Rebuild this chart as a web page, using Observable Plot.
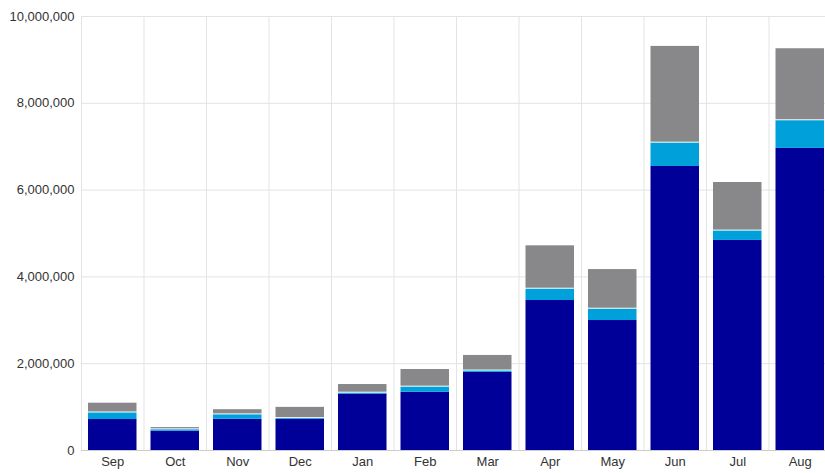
<!DOCTYPE html>
<html><head><meta charset="utf-8">
<script src="https://cdn.jsdelivr.net/npm/d3@7"></script>
<script src="https://cdn.jsdelivr.net/npm/@observablehq/plot@0.6"></script>
<style>html,body{margin:0;padding:0;background:#fff;overflow:hidden}</style>
</head><body><div id="chart"></div>
<script>
const months = ["Sep","Oct","Nov","Dec","Jan","Feb","Mar","Apr","May","Jun","Jul","Aug"];
const seriesNames = ["Series 1","Series 2","Series 3"];
const seriesColors = ["#000099","#00a1da","#88888a"];
const series1 = [714000, 445000, 720000, 714000, 1300000, 1343000, 1800000, 3456000, 2995000, 6544000, 4840000, 6960000];
const series2 = [150000, 30000, 100000, 20000, 20000, 116000, 30000, 260000, 260000, 537000, 215000, 637000];
const series3 = [226000, 53000, 120000, 260000, 200000, 407000, 360000, 1000000, 914000, 2230000, 1120000, 1660000];
const yTicks = [0, 2000000, 4000000, 6000000, 8000000, 10000000];

const rows = [];
[series1, series2, series3].forEach((vals, s) => {
  vals.forEach((v, i) => rows.push({month: months[i], series: seriesNames[s], value: v}));
});

const stackOpts = {x: "month", y: "value", z: "series", fill: "series", order: seriesNames};
const layer = (name, extra = {}) =>
  Plot.barY(rows, {...Plot.filter(d => d.series === name, Plot.stackY(stackOpts)), insetLeft: 7, insetRight: 7, ...extra});

const chart = Plot.plot({
  width: 825, height: 473,
  marginLeft: 81, marginRight: -6, marginTop: 16, marginBottom: 23,
  style: {fontFamily: "'Liberation Sans', Arial, sans-serif", fontSize: "13px", color: "#333", background: "#fff", overflow: "visible"},
  x: {domain: months, padding: 0, round: false},
  y: {domain: [0, 10000000]},
  color: {domain: seriesNames, range: seriesColors},
  marks: [
    Plot.ruleY(yTicks, {stroke: "#e3e3e3"}),
    Plot.ruleX(months, {dx: -31.25, stroke: "#e3e3e3"}),
    layer(seriesNames[0]),
    layer(seriesNames[1]),
    layer(seriesNames[2], {insetBottom: 1}),
    Plot.ruleY([0], {stroke: "#cccccc"}),
    Plot.axisY(yTicks, {tickSize: 0, tickPadding: 7, tickFormat: d3.format(","), label: null, fontSize: 13}),
    Plot.axisX({tickSize: 0, tickPadding: 6, label: null, fontSize: 13})
  ]
});
document.getElementById("chart").appendChild(chart);
</script>
</body></html>
